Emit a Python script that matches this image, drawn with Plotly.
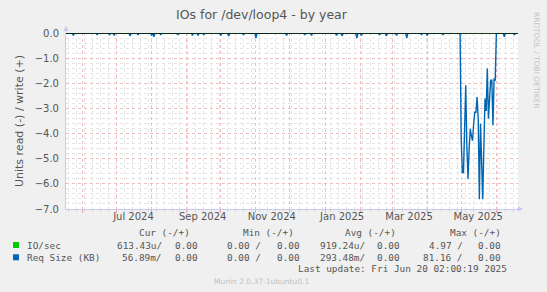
import plotly.graph_objects as go
import pandas as pd

# ---------------- data ----------------
# daily averages, read side (negative), May 2025 burst
burst_start = "2025-05-01"
burst_read = [-4.2, -5.55, -5.55, -3.8, -2.08, -4.5, -5.81, -4.6, -3.81, -4.1,
              -4.28, -3.6, -3.15, -3.15, -2.55, -3.4, -6.61, -3.61, -5.01, -6.61,
              -4.5, -2.61, -3.1, -1.41, -3.41, -2.4, -1.88, -1.88, -3.68, -1.81, -1.9]

# small read blips over the rest of the year
blip_dates = ["2024-05-24", "2024-06-14", "2024-06-25", "2024-06-29", "2024-07-13",
              "2024-07-20", "2024-08-01", "2024-08-03", "2024-08-09", "2024-08-24",
              "2024-09-06", "2024-09-11", "2024-09-16", "2024-10-01", "2024-10-08",
              "2024-10-21", "2024-11-01", "2024-11-28", "2024-12-14", "2024-12-20",
              "2025-01-11", "2025-01-16", "2025-01-29", "2025-02-02", "2025-02-18",
              "2025-02-24", "2025-03-05", "2025-03-14", "2025-03-27", "2025-04-01",
              "2025-04-15", "2025-06-08", "2025-06-17"]
blip_values = [-0.1, -0.08, -0.06, -0.1, -0.12, -0.08, -0.1, -0.15, -0.08, -0.08,
               -0.1, -0.1, -0.08, -0.1, -0.12, -0.08, -0.2, -0.1, -0.08, -0.1,
               -0.1, -0.12, -0.2, -0.1, -0.08, -0.12, -0.1, -0.2, -0.08, -0.1,
               -0.08, -0.15, -0.08]

first_day = "2024-05-17"
last_day = "2025-06-20"

x_range = ["2024-05-17 12:00", "2025-06-20 02:00"]
month_starts = ["2024-06-01", "2024-07-01", "2024-08-01", "2024-09-01", "2024-10-01",
                "2024-11-01", "2024-12-01", "2025-01-01", "2025-02-01", "2025-03-01",
                "2025-04-01", "2025-05-01", "2025-06-01"]
label_dates = ["2024-07-16", "2024-09-15", "2024-11-15", "2025-01-16", "2025-03-16", "2025-05-16"]
label_text = ["Jul 2024", "Sep 2024", "Nov 2024", "Jan 2025", "Mar 2025", "May 2025"]

title = "IOs for /dev/loop4 - by year"
y_title = "Units read (-) / write (+)"

legend_header = ["Cur (-/+)", "Min (-/+)", "Avg (-/+)", "Max (-/+)"]
legend_names = ["IO/sec", "Req Size (KB)"]
legend_colors = ["#00cc00", "#0066b3"]
legend_rows = [
    ["613.43u/", "0.00", "0.00 /", "0.00", "919.24u/", "0.00", "4.97 /", "0.00"],
    ["56.89m/", "0.00", "0.00 /", "0.00", "293.48m/", "0.00", "81.16 /", "0.00"],
]
last_update = "Last update: Fri Jun 20 02:00:19 2025"
munin_version = "Munin 2.0.37-1ubuntu0.1"
rrd_credit = "RRDTOOL / TOBI OETIKER"

# ---------------- build series ----------------
days = pd.date_range(first_day, last_day, freq="D")
req_read = pd.Series(0.0, index=days)
for d, v in zip(blip_dates, blip_values):
    req_read[pd.Timestamp(d)] = v
burst_days = pd.date_range(burst_start, periods=len(burst_read), freq="D")
req_read[burst_days] = burst_read
io_read = pd.Series(0.0, index=days)

# ---------------- figure ----------------
W, H = 547, 292
L, R, T, B = 66, 29, 33, 83
PW, PH = W - L - R, H - T - B


def px(x):
    return (x - L) / PW


def py(y):
    return (H - B - y) / PH


fig = go.Figure()
fig.add_trace(go.Scatter(x=io_read.index, y=io_read.values, mode="lines",
                         line=dict(color="#00cc00", width=1), xaxis="x2",
                         hoverinfo="skip", showlegend=False))
fig.add_trace(go.Scatter(x=req_read.index, y=req_read.values, mode="lines",
                         line=dict(color="#0066b3", width=1.4),
                         hoverinfo="skip", showlegend=False))

TXT = "#555555"
MAJ = "#f0bcbc"
MIN = "#e4e4e4"
fig.update_layout(
    width=W, height=H,
    margin=dict(l=L, r=R, t=T, b=B),
    paper_bgcolor="#f0f0f0", plot_bgcolor="#ffffff",
    font=dict(family="DejaVu Sans", size=10, color=TXT),
    showlegend=False,
    xaxis=dict(type="date", range=x_range, tickvals=month_starts,
               ticktext=[""] * len(month_starts), showgrid=True,
               gridcolor=MAJ, griddash="dot", gridwidth=1,
               ticks="outside", ticklen=3, tickcolor="#e8a8a8",
               minor=dict(dtick=7 * 86400000, tick0="2024-05-20", showgrid=True,
                          gridcolor=MIN, griddash="dot", ticks="outside",
                          ticklen=2, tickcolor="#d8d8d8"),
               showline=True, linecolor="#c8c8f0", linewidth=1, zeroline=False),
    xaxis2=dict(type="date", matches="x", overlaying="x", side="bottom", anchor="y",
                tickvals=label_dates, ticktext=label_text, showgrid=False,
                ticks="", tickfont=dict(size=10, color=TXT), showline=False),
    yaxis=dict(range=[-7, 0], dtick=1, tick0=0, tickformat=".1f",
               showgrid=True, gridcolor=MAJ, griddash="dot",
               minor=dict(dtick=0.2, showgrid=True, gridcolor=MIN, griddash="dot"),
               showline=True, linecolor="#c8c8f0", linewidth=1, zeroline=False,
               ticks="", ticklabelstandoff=4,
               title=dict(text=y_title, font=dict(size=11, color=TXT), standoff=8)),
)

# zero line
fig.add_shape(type="line", xref="paper", yref="y", x0=0, x1=1, y0=0, y1=0,
              line=dict(color="#000000", width=1.5), layer="above")

ann = []
ann.append(dict(text=title, x=px(262), y=py(14), xref="paper", yref="paper",
                showarrow=False, font=dict(size=12.5, color=TXT),
                xanchor="center", yanchor="middle"))
ann.append(dict(text=rrd_credit, x=px(537), y=py(60), xref="paper", yref="paper",
                showarrow=False, textangle=90, font=dict(size=7.5, color="#c4c4c4"),
                xanchor="center", yanchor="middle"))
# axis arrows
ann.append(dict(text="", x=0, y=1, xref="paper", yref="paper", yshift=7,
                showarrow=True, ax=0, ay=8, arrowhead=2, arrowsize=1, arrowwidth=1,
                arrowcolor="#c8c8f0"))
ann.append(dict(text="", x=1, y=0, xref="paper", yref="paper", xshift=5,
                showarrow=True, ax=-8, ay=0, arrowhead=2, arrowsize=1, arrowwidth=1,
                arrowcolor="#c8c8f0"))

MONO = dict(family="DejaVu Sans Mono", size=9.4, color=TXT)
header_right = [191.7, 295.7, 398.3, 502.7]
for txt, xr in zip(legend_header, header_right):
    ann.append(dict(text=txt, x=px(xr), y=py(232.5), xref="paper", yref="paper",
                    showarrow=False, font=MONO, xanchor="right", yanchor="middle"))

row_y = [245, 257.3]
col_right = [164.3, 200, 263.3, 301.7, 366.7, 401.7, 465, 503.3]
for name, color, vals, ry in zip(legend_names, legend_colors, legend_rows, row_y):
    fig.add_shape(type="rect", xref="paper", yref="paper",
                  x0=px(13), x1=px(19), y0=py(ry + 3), y1=py(ry - 3),
                  fillcolor=color, line=dict(width=0))
    ann.append(dict(text=name, x=px(25), y=py(ry), xref="paper", yref="paper",
                    showarrow=False, font=MONO, xanchor="left", yanchor="middle"))
    for v, xr in zip(vals, col_right):
        ann.append(dict(text=v, x=px(xr), y=py(ry), xref="paper", yref="paper",
                        showarrow=False, font=MONO, xanchor="right", yanchor="middle"))

ann.append(dict(text=last_update, x=px(509), y=py(268.7), xref="paper", yref="paper",
                showarrow=False, font=MONO, xanchor="right", yanchor="middle"))
ann.append(dict(text=munin_version, x=px(261), y=py(281.7), xref="paper", yref="paper",
                showarrow=False, font=dict(family="DejaVu Sans", size=7.5, color="#c0c0c0"),
                xanchor="center", yanchor="middle"))

fig.update_layout(annotations=ann)
fig.write_html("out.html")
